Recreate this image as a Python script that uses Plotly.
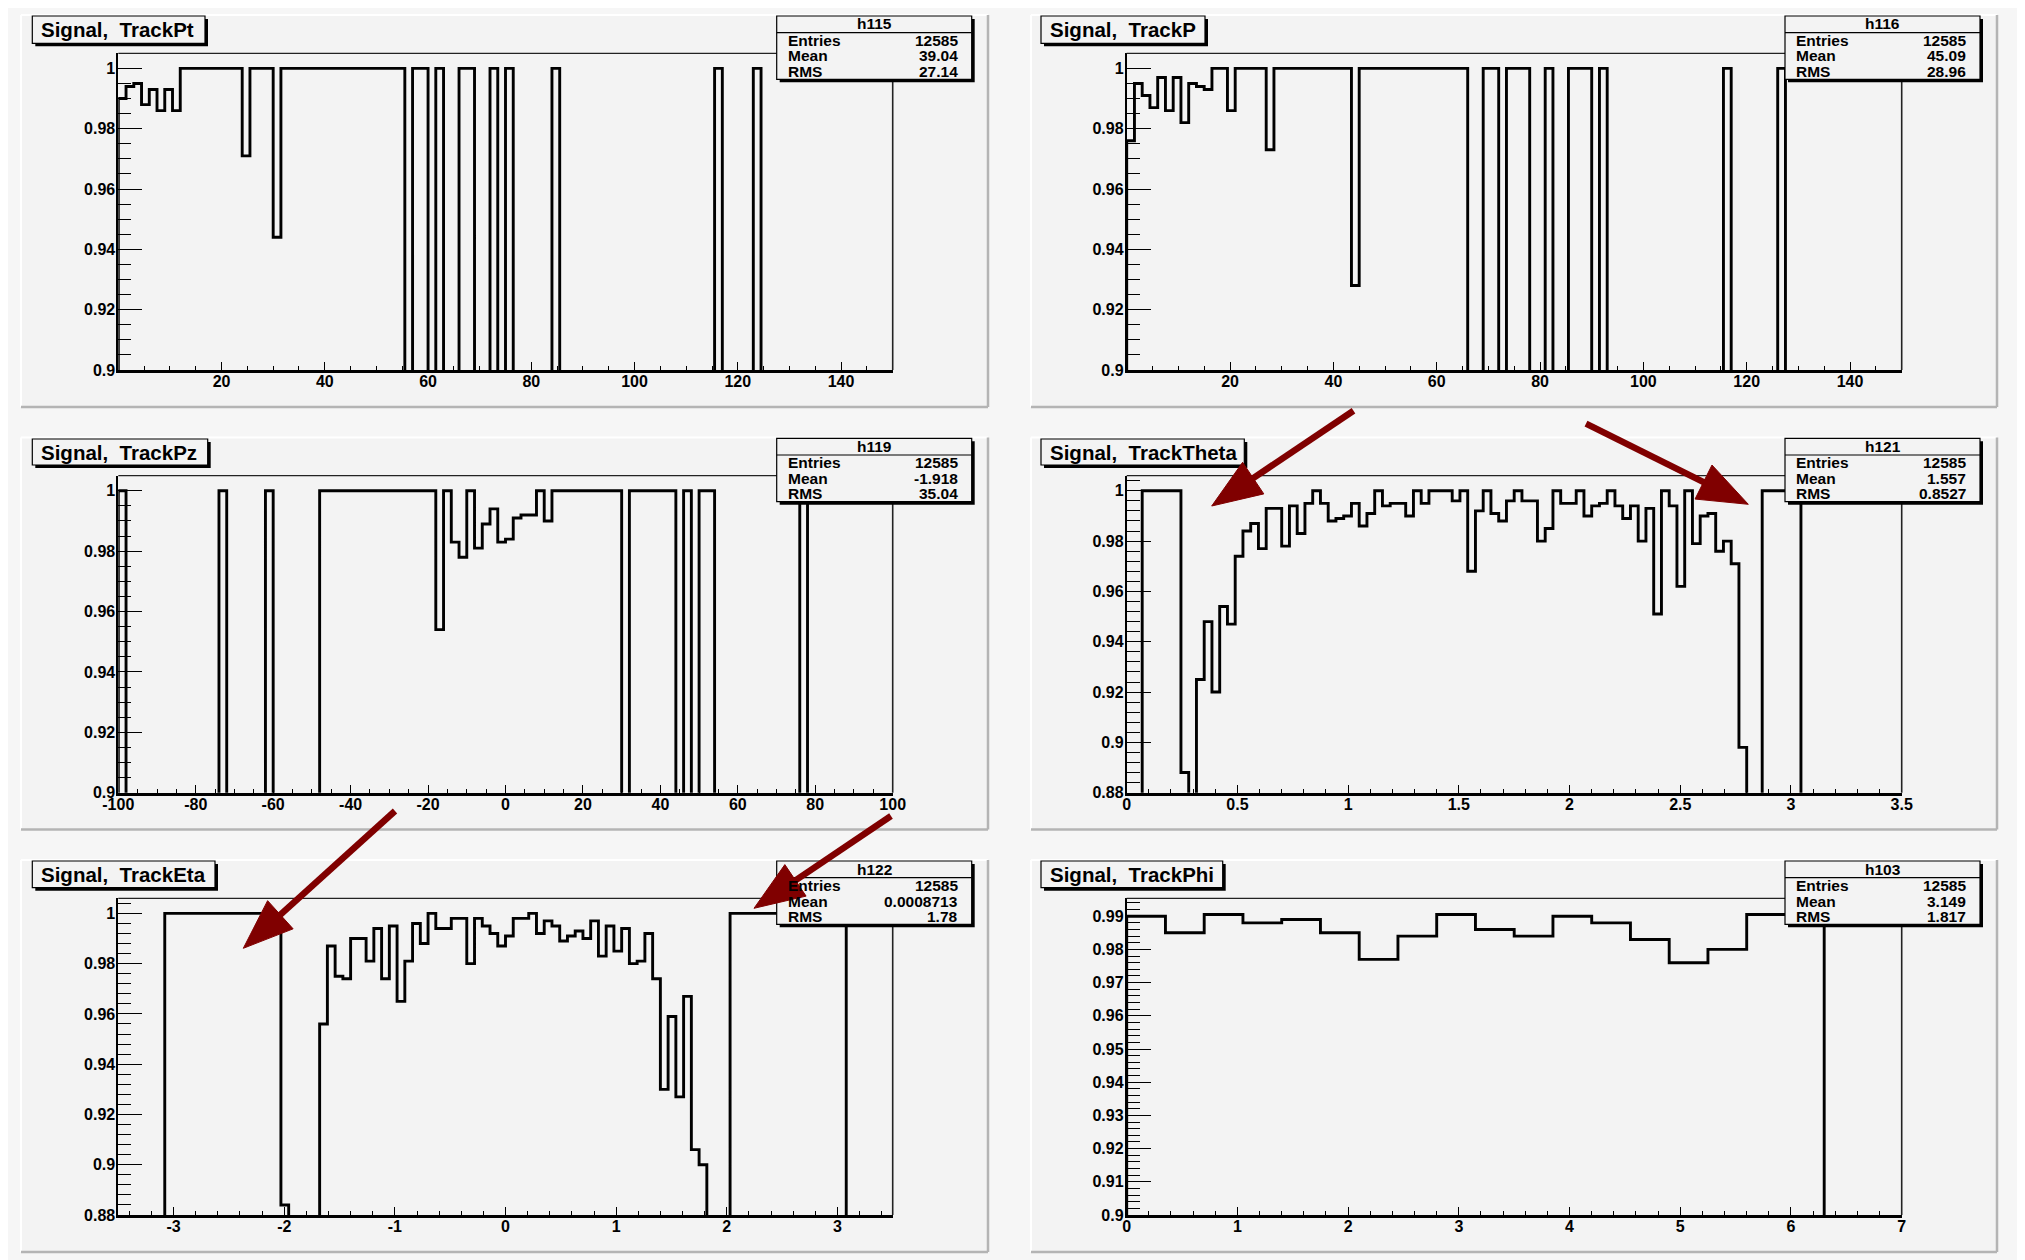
import math
import numpy as np
import plotly.graph_objects as go

W, H = 2025, 1260
OFF = 8  # page body margin of the browser: figure starts 8 px right/down

# ------------------------------------------------------------------ data
panel_titles = ["Signal,\u00a0 TrackPt", "Signal,\u00a0 TrackP", "Signal,\u00a0 TrackPz",
                "Signal,\u00a0 TrackTheta", "Signal,\u00a0 TrackEta", "Signal,\u00a0 TrackPhi"]
hist_names = ["h115", "h116", "h119", "h121", "h122", "h103"]
stat_entries = ["12585", "12585", "12585", "12585", "12585", "12585"]
stat_means = ["39.04", "45.09", "-1.918", "1.557", "0.0008713", "3.149"]
stat_rms = ["27.14", "28.96", "35.04", "0.8527", "1.78", "1.817"]

x_ranges = [(0, 150), (0, 150), (-100, 100), (0, 3.5), (-3.5, 3.5), (0, 7)]
y_ranges = [(0.9, 1.005), (0.9, 1.005), (0.9, 1.005), (0.88, 1.006), (0.88, 1.006), (0.9, 0.9954)]

pt_eff = [
    0.990, 0.994, 0.995, 0.988, 0.993, 0.986, 0.993, 0.986, 1, 1,
    1, 1, 1, 1, 1, 1, 0.971, 1, 1, 1,
    0.944, 1, 1, 1, 1, 1, 1, 1, 1, 1,
    1, 1, 1, 1, 1, 1, 1, 0, 1, 1,
    0, 1, 0, 0, 1, 1, 0, 0, 1, 0,
    1, 0, 0, 0, 0, 0, 1, 0, 0, 0,
    0, 0, 0, 0, 0, 0, 0, 0, 0, 0,
    0, 0, 0, 0, 0, 0, 0, 1, 0, 0,
    0, 0, 1, 0, 0, 0, 0, 0, 0, 0,
    0, 0, 0, 0, 0, 0, 0, 0, 0, 0,
]
p_eff = [
    0.976, 0.995, 0.991, 0.987, 0.997, 0.986, 0.997, 0.982, 0.995, 0.994,
    0.993, 1, 1, 0.986, 1, 1, 1, 1, 0.973, 1,
    1, 1, 1, 1, 1, 1, 1, 1, 1, 0.928,
    1, 1, 1, 1, 1, 1, 1, 1, 1, 1,
    1, 1, 1, 1, 0, 0, 1, 1, 0, 1,
    1, 1, 0, 0, 1, 0, 0, 1, 1, 1,
    0, 1, 0, 0, 0, 0, 0, 0, 0, 0,
    0, 0, 0, 0, 0, 0, 0, 1, 0, 0,
    0, 0, 0, 0, 1, 0, 0, 0, 0, 0,
    0, 0, 0, 0, 0, 0, 0, 0, 0, 0,
]
pz_eff = [
    1, 0, 0, 0, 0, 0, 0, 0, 0, 0,
    0, 0, 0, 1, 0, 0, 0, 0, 0, 1,
    0, 0, 0, 0, 0, 0, 1, 1, 1, 1,
    1, 1, 1, 1, 1, 1, 1, 1, 1, 1,
    1, 0.954, 1, 0.983, 0.978, 1, 0.981, 0.989, 0.994, 0.983,
    0.984, 0.991, 0.992, 0.992, 1, 0.990, 1, 1, 1, 1,
    1, 1, 1, 1, 1, 0, 1, 1, 1, 1,
    1, 1, 0, 1, 0, 1, 1, 0, 0, 0,
    0, 0, 0, 0, 0, 0, 0, 0, 1, 0,
    0, 0, 0, 0, 0, 0, 0, 0, 0, 0,
]
theta_eff = [
    0, 0, 1, 1, 1, 1, 1, 0.888, 0, 0.925,
    0.948, 0.920, 0.954, 0.947, 0.974, 0.984, 0.987, 0.977, 0.993, 0.993,
    0.978, 0.994, 0.983, 0.995, 1, 0.995, 0.988, 0.989, 0.990, 0.995,
    0.986, 0.991, 1, 0.994, 0.995, 0.995, 0.990, 1, 0.995, 1,
    1, 1, 0.996, 1, 0.968, 0.992, 1, 0.991, 0.988, 0.996,
    1, 0.996, 0.996, 0.980, 0.985, 1, 0.995, 0.995, 1, 0.990,
    0.994, 0.995, 1, 0.994, 0.989, 0.994, 0.980, 0.993, 0.951, 1,
    0.994, 0.962, 1, 0.979, 0.990, 0.991, 0.976, 0.980, 0.971, 0.898,
    0, 0, 1, 1, 1, 1, 1, 0, 0, 0,
    0, 0, 0, 0, 0, 0, 0, 0, 0, 0,
]
eta_eff = [
    0, 0, 0, 0, 0, 0, 1, 1, 1, 1,
    1, 1, 1, 1, 1, 1, 1, 1, 1, 1,
    1, 0.884, 0, 0, 0, 0, 0.956, 0.987, 0.975, 0.974,
    0.990, 0.990, 0.981, 0.994, 0.974, 0.995, 0.965, 0.981, 0.996, 0.988,
    1, 0.994, 0.994, 0.998, 0.998, 0.980, 0.998, 0.995, 0.992, 0.987,
    0.991, 0.998, 0.998, 1, 0.992, 0.997, 0.995, 0.989, 0.991, 0.993,
    0.990, 0.997, 0.983, 0.995, 0.985, 0.994, 0.980, 0.981, 0.992, 0.974,
    0.930, 0.959, 0.927, 0.967, 0.906, 0.900, 0, 0, 0, 1,
    1, 1, 1, 1, 1, 1, 1, 1, 1, 1,
    1, 1, 1, 1, 0, 0, 0, 0, 0, 0,
]
phi_eff = [
    0.990, 0.985, 0.9905, 0.988, 0.989, 0.985, 0.977, 0.984, 0.9905, 0.986,
    0.984, 0.990, 0.988, 0.983, 0.976, 0.980, 0.9905, 0.9905, 0, 0,
]
all_eff = [pt_eff, p_eff, pz_eff, theta_eff, eta_eff, phi_eff]

x_tickvals = [
    [20, 40, 60, 80, 100, 120, 140],
    [20, 40, 60, 80, 100, 120, 140],
    [-100, -80, -60, -40, -20, 0, 20, 40, 60, 80, 100],
    [0, 0.5, 1, 1.5, 2, 2.5, 3, 3.5],
    [-3, -2, -1, 0, 1, 2, 3],
    [0, 1, 2, 3, 4, 5, 6, 7],
]
x_ticktext = [
    ["20", "40", "60", "80", "100", "120", "140"],
    ["20", "40", "60", "80", "100", "120", "140"],
    ["-100", "-80", "-60", "-40", "-20", "0", "20", "40", "60", "80", "100"],
    ["0", "0.5", "1", "1.5", "2", "2.5", "3", "3.5"],
    ["-3", "-2", "-1", "0", "1", "2", "3"],
    ["0", "1", "2", "3", "4", "5", "6", "7"],
]
x_minor = [(0, 5), (0, 5), (-100, 5), (0, 0.1), (-3.4, 0.2), (0, 0.2)]

y_tv_a = [0.9, 0.92, 0.94, 0.96, 0.98, 1]
y_tt_a = ["0.9", "0.92", "0.94", "0.96", "0.98", "1"]
y_tv_b = [0.88, 0.9, 0.92, 0.94, 0.96, 0.98, 1]
y_tt_b = ["0.88", "0.9", "0.92", "0.94", "0.96", "0.98", "1"]
y_tv_c = [0.9, 0.91, 0.92, 0.93, 0.94, 0.95, 0.96, 0.97, 0.98, 0.99]
y_tt_c = ["0.9", "0.91", "0.92", "0.93", "0.94", "0.95", "0.96", "0.97", "0.98", "0.99"]
y_tickvals = [y_tv_a, y_tv_a, y_tv_a, y_tv_b, y_tv_b, y_tv_c]
y_ticktext = [y_tt_a, y_tt_a, y_tt_a, y_tt_b, y_tt_b, y_tt_c]
y_minor = [(0.9, 0.005), (0.9, 0.005), (0.9, 0.005), (0.88, 0.004), (0.88, 0.004), (0.9, 0.002)]

# ------------------------------------------------------------------ geometry (pixels, screen)
plot_px = [
    (118.3, 53.3, 892.7, 370.0), (1126.7, 53.3, 1901.7, 370.0),
    (118.3, 475.7, 892.7, 792.7), (1126.7, 475.7, 1901.7, 792.7),
    (118.3, 898.3, 892.7, 1215.0), (1126.7, 898.3, 1901.7, 1215.0),
]
pad_px = [
    (21, 15, 988, 407), (1031, 15, 1997, 407),
    (21, 437.5, 988, 829.5), (1031, 437.5, 1997, 829.5),
    (21, 860, 988, 1252), (1031, 860, 1997, 1252),
]
title_px = [
    (32.3, 16, 205, 43.3), (1041, 16, 1205, 43.3),
    (32.3, 439, 207.7, 465), (1041, 439, 1244.3, 465),
    (32.3, 861, 215, 887.7), (1041, 861, 1222.7, 887.7),
]
stats_px = [
    (776.7, 16, 971.7, 79.3), (1785, 16, 1980, 79.3),
    (776.7, 438.3, 971.7, 501.7), (1785, 438.3, 1980, 501.7),
    (776.7, 861, 971.7, 924.3), (1785, 861, 1980, 924.3),
]
arrows_px = [
    (1353.5, 410.7, 1211.7, 506.0),
    (1586.0, 423.6, 1748.3, 504.3),
    (395.0, 811.0, 243.3, 948.3),
    (891.0, 816.0, 754.0, 908.3),
]

PAD = "#f3f3f3"
CANVAS = "#f6f6f6"
FONT = "Liberation Sans"
ARROW = "#800000"


def fx(px):
    return (px - OFF) / W


def fy(py):
    return 1 - (py - OFF) / H


fig = go.Figure()
layout = {}
shapes = []
annotations = []

# pads (bevelled boxes)
for (x0, y0, x1, y1) in pad_px:
    shapes.append(dict(type="rect", xref="paper", yref="paper", layer="below",
                       x0=fx(x0), x1=fx(x1), y0=fy(y1), y1=fy(y0),
                       fillcolor=PAD, line=dict(width=0)))
    shapes.append(dict(type="line", xref="paper", yref="paper", layer="below",
                       x0=fx(x0), x1=fx(x1), y0=fy(y0), y1=fy(y0), line=dict(color="white", width=2)))
    shapes.append(dict(type="line", xref="paper", yref="paper", layer="below",
                       x0=fx(x0), x1=fx(x0), y0=fy(y1), y1=fy(y0), line=dict(color="white", width=2)))
    shapes.append(dict(type="line", xref="paper", yref="paper", layer="below",
                       x0=fx(x1), x1=fx(x1), y0=fy(y1), y1=fy(y0), line=dict(color="#b4b4b4", width=2.5)))
    shapes.append(dict(type="line", xref="paper", yref="paper", layer="below",
                       x0=fx(x0), x1=fx(x1), y0=fy(y1), y1=fy(y1), line=dict(color="#b4b4b4", width=2.5)))

tickfont = dict(family=FONT, size=16, color="black", weight="bold")

for i in range(6):
    n = i + 1
    xa = "x" if n == 1 else f"x{n}"
    ya = "y" if n == 1 else f"y{n}"
    xmin, xmax = x_ranges[i]
    vals = all_eff[i]
    edges = np.linspace(xmin, xmax, len(vals) + 1)
    xs = [edges[0]] + list(edges[:-1]) + [edges[-1], edges[-1]]
    ys = [0.0] + list(vals) + [vals[-1], 0.0]
    fig.add_trace(go.Scatter(x=xs, y=ys, xaxis=xa, yaxis=ya, mode="lines",
                             line=dict(color="black", width=2.9, shape="hv", simplify=False),
                             hoverinfo="skip", showlegend=False))

    x0, y0, x1, y1 = plot_px[i]
    layout["xaxis" if n == 1 else f"xaxis{n}"] = dict(
        domain=[fx(x0), fx(x1)], anchor=ya, range=list(x_ranges[i]), automargin=False,
        showgrid=False, zeroline=False, showline=True, linecolor="black", linewidth=2.6,
        ticks="inside", ticklen=8, tickwidth=1.3, tickcolor="black",
        tickmode="array", tickvals=x_tickvals[i], ticktext=x_ticktext[i],
        minor=dict(ticks="inside", ticklen=4, tickwidth=1.3, tickcolor="black",
                   tick0=x_minor[i][0], dtick=x_minor[i][1]),
        tickfont=tickfont, ticklabelstandoff=-5, fixedrange=True)
    layout["yaxis" if n == 1 else f"yaxis{n}"] = dict(
        domain=[fy(y1), fy(y0)], anchor=xa, range=list(y_ranges[i]), automargin=False,
        showgrid=False, zeroline=False, showline=True, linecolor="black", linewidth=1.8,
        ticks="inside", ticklen=24, tickwidth=1.3, tickcolor="black",
        tickmode="array", tickvals=y_tickvals[i], ticktext=y_ticktext[i],
        minor=dict(ticks="inside", ticklen=13, tickwidth=1.3, tickcolor="black",
                   tick0=y_minor[i][0], dtick=y_minor[i][1]),
        tickfont=tickfont, ticklabelstandoff=-2, fixedrange=True)

    # top / right frame lines
    shapes.append(dict(type="line", xref=f"{xa} domain", yref=f"{ya} domain", layer="above",
                       x0=0, x1=1, y0=1, y1=1, line=dict(color="#222222", width=1.2)))
    shapes.append(dict(type="line", xref=f"{xa} domain", yref=f"{ya} domain", layer="above",
                       x0=1, x1=1, y0=0, y1=1, line=dict(color="#222222", width=1.6)))

    # title box with shadow
    tx0, ty0, tx1, ty1 = title_px[i]
    shapes.append(dict(type="rect", xref="paper", yref="paper", layer="above",
                       x0=fx(tx0 + 3), x1=fx(tx1 + 3), y0=fy(ty1 + 3), y1=fy(ty0 + 3),
                       fillcolor="black", line=dict(width=0)))
    shapes.append(dict(type="rect", xref="paper", yref="paper", layer="above",
                       x0=fx(tx0), x1=fx(tx1), y0=fy(ty1), y1=fy(ty0),
                       fillcolor=PAD, line=dict(color="black", width=1.2)))
    annotations.append(dict(xref="paper", yref="paper", x=fx(tx0 + 7), y=fy((ty0 + ty1) / 2),
                            xanchor="left", yanchor="middle", showarrow=False,
                            text=panel_titles[i],
                            font=dict(family=FONT, size=20.5, color="black", weight="bold")))

    # stats box with shadow
    sx0, sy0, sx1, sy1 = stats_px[i]
    shapes.append(dict(type="rect", xref="paper", yref="paper", layer="above",
                       x0=fx(sx0 + 3), x1=fx(sx1 + 3), y0=fy(sy1 + 3), y1=fy(sy0 + 3),
                       fillcolor="black", line=dict(width=0)))
    shapes.append(dict(type="rect", xref="paper", yref="paper", layer="above",
                       x0=fx(sx0), x1=fx(sx1), y0=fy(sy1), y1=fy(sy0),
                       fillcolor=PAD, line=dict(color="black", width=1.2)))
    shapes.append(dict(type="line", xref="paper", yref="paper", layer="above",
                       x0=fx(sx0), x1=fx(sx1), y0=fy(sy0 + 16.7), y1=fy(sy0 + 16.7),
                       line=dict(color="black", width=1.2)))
    sfont = dict(family=FONT, size=15.5, color="black", weight="bold")
    annotations.append(dict(xref="paper", yref="paper", x=fx((sx0 + sx1) / 2), y=fy(sy0 + 8),
                            xanchor="center", yanchor="middle", showarrow=False,
                            text=hist_names[i], font=sfont))
    rows = [("Entries", stat_entries[i]), ("Mean", stat_means[i]), ("RMS", stat_rms[i])]
    for k, (lab, val) in enumerate(rows):
        yy = sy0 + 24.5 + 15.5 * k
        annotations.append(dict(xref="paper", yref="paper", x=fx(sx0 + 9), y=fy(yy),
                                xanchor="left", yanchor="middle", showarrow=False,
                                text=lab, font=sfont))
        annotations.append(dict(xref="paper", yref="paper", x=fx(sx1 - 12), y=fy(yy),
                                xanchor="right", yanchor="middle", showarrow=False,
                                text=val, font=sfont))

# red arrows
for (xs_, ys_, xt, yt) in arrows_px:
    dx, dy = xt - xs_, yt - ys_
    L = math.hypot(dx, dy)
    ux, uy = dx / L, dy / L
    hl, hw = 50.0, 19.0
    bx, by = xt - ux * hl, yt - uy * hl
    nx, ny = -uy, ux
    c1 = (bx + nx * hw, by + ny * hw)
    c2 = (bx - nx * hw, by - ny * hw)
    shapes.append(dict(type="line", xref="paper", yref="paper", layer="above",
                       x0=fx(xs_), y0=fy(ys_), x1=fx(bx + ux * 4), y1=fy(by + uy * 4),
                       line=dict(color=ARROW, width=6.5)))
    path = (f"M {fx(xt)},{fy(yt)} L {fx(c1[0])},{fy(c1[1])} "
            f"L {fx(c2[0])},{fy(c2[1])} Z")
    shapes.append(dict(type="path", xref="paper", yref="paper", layer="above",
                       path=path, fillcolor=ARROW, line=dict(color=ARROW, width=1)))

fig.update_layout(
    width=W, height=H,
    margin=dict(l=0, r=0, t=0, b=0, pad=0, autoexpand=False),
    paper_bgcolor=CANVAS, plot_bgcolor=PAD,
    showlegend=False, shapes=shapes, annotations=annotations,
    **layout,
)

fig.write_html("out.html", config={"displayModeBar": False})
